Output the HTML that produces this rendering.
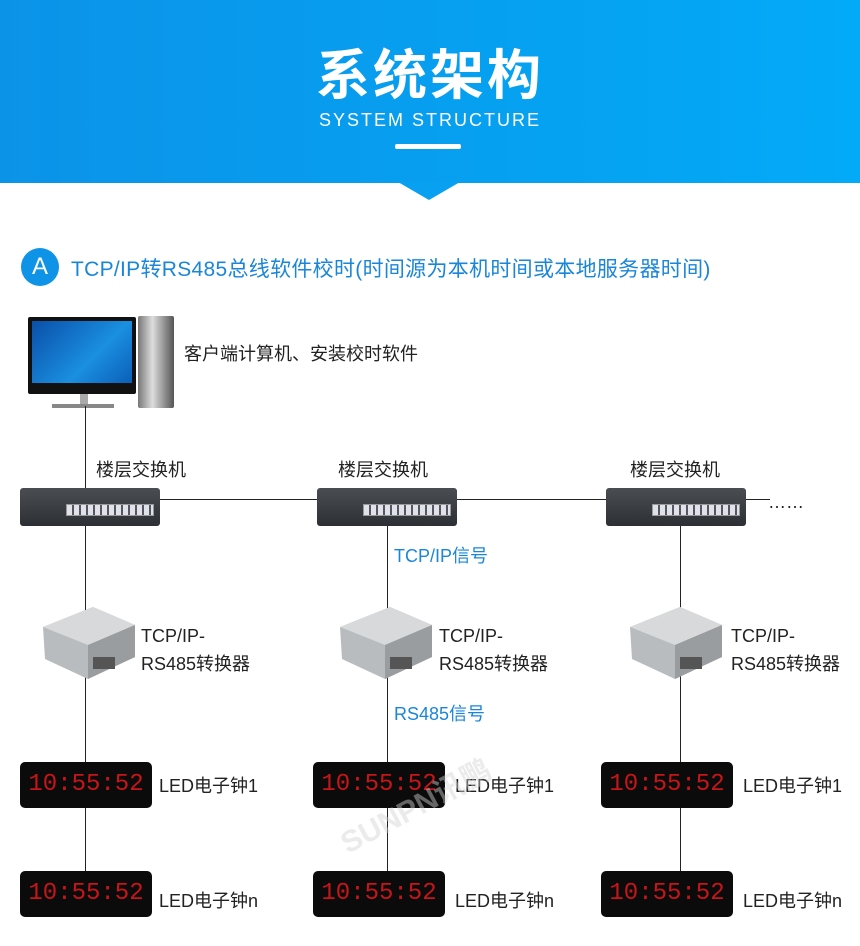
<!DOCTYPE html>
<html><head><meta charset="utf-8"><style>
*{margin:0;padding:0;box-sizing:border-box}
body{width:860px;height:946px;position:relative;background:#fff;overflow:hidden;font-family:"Liberation Sans","Noto Sans CJK SC",sans-serif}
.hdr{position:absolute;left:0;top:0;width:860px;height:183px;background:linear-gradient(90deg,#0b93e8,#03aaf7)}
.abs{position:absolute}
.t{position:absolute;font-size:18px;color:#222;white-space:nowrap}
.b{color:#1a86d8}
.v{position:absolute;width:1px;background:#222}
.sw{position:absolute;width:140px;height:38px;background:linear-gradient(#4a4d52,#2c2f33);border-radius:3px}
.sw i{position:absolute;left:46px;top:16px;width:88px;height:12px;background:repeating-linear-gradient(90deg,#dfe3e8 0 5px,#556 5px 7px);border:1px solid #999}
.cv{position:absolute;width:92px;height:72px}
.clk{position:absolute;width:132px;height:46px;background:#0b0b0b;border-radius:5px;color:#c8151a;font-family:"Liberation Mono",monospace;font-size:24px;line-height:46px;text-align:center;letter-spacing:0}
</style></head><body>
<div class="hdr"></div>
<svg class="abs" style="left:398px;top:182px" width="62" height="20"><polygon points="0,0 62,0 31,18" fill="#08a0f0"/></svg>
<div class="abs" style="left:0;top:40px;width:860px;text-align:center;color:#fff;font-size:54px;font-weight:bold;letter-spacing:3px;font-family:'Noto Sans CJK SC',sans-serif;line-height:62px">系统架构</div>
<div class="abs" style="left:0;top:110px;width:860px;text-align:center;color:#fff;font-size:18px;letter-spacing:2px">SYSTEM STRUCTURE</div>
<div class="abs" style="left:395px;top:144px;width:66px;height:5px;background:#fff;border-radius:2px"></div>
<div class="abs" style="left:21px;top:248px;width:38px;height:38px;border-radius:50%;background:#0e93e6;color:#fff;font-size:24px;text-align:center;line-height:38px">A</div>
<div class="t b" style="left:71px;top:253px;font-size:21px;letter-spacing:0.3px">TCP/IP转RS485总线软件校时(时间源为本机时间或本地服务器时间)</div>

<!-- computer -->
<div class="abs" style="left:28px;top:317px;width:108px;height:77px;background:#111;border-radius:2px"></div>
<div class="abs" style="left:32px;top:321px;width:100px;height:62px;background:linear-gradient(135deg,#0a4fa8,#1a8fe0 60%,#0b5fb8)"></div>
<div class="abs" style="left:80px;top:394px;width:8px;height:12px;background:#aaa"></div>
<div class="abs" style="left:52px;top:404px;width:62px;height:4px;background:#888"></div>
<div class="abs" style="left:138px;top:316px;width:36px;height:92px;background:linear-gradient(90deg,#777,#ddd 40%,#555);border-radius:2px"></div>
<div class="t" style="left:184px;top:340px">客户端计算机、安装校时软件</div>

<!-- lines -->
<div class="v" style="left:85px;top:406px;height:84px"></div>
<div class="abs" style="left:160px;top:499px;width:610px;height:1px;background:#222"></div>
<div class="v" style="left:85px;top:524px;height:350px"></div>
<div class="v" style="left:387px;top:524px;height:350px"></div>
<div class="v" style="left:680px;top:524px;height:350px"></div>

<div class="t" style="left:96px;top:456px">楼层交换机</div>
<div class="t" style="left:338px;top:456px">楼层交换机</div>
<div class="t" style="left:630px;top:456px">楼层交换机</div>
<div class="t" style="left:768px;top:492px">……</div>

<div class="sw" style="left:20px;top:488px"><i></i></div>
<div class="sw" style="left:317px;top:488px"><i></i></div>
<div class="sw" style="left:606px;top:488px"><i></i></div>

<div class="t b" style="left:394px;top:542px">TCP/IP信号</div>
<div class="t b" style="left:394px;top:700px">RS485信号</div>

<!-- converters -->
<svg class="cv" style="left:43px;top:607px" viewBox="0 0 92 72"><polygon points="0,20 50,0 92,18 92,50 45,72 2,52" fill="#b9bcbf"/><polygon points="0,20 50,0 92,18 45,38" fill="#d7d9db"/><polygon points="45,38 92,18 92,50 45,72" fill="#9a9da0"/><rect x="50" y="50" width="22" height="12" fill="#555"/></svg>
<svg class="cv" style="left:340px;top:607px" viewBox="0 0 92 72"><polygon points="0,20 50,0 92,18 92,50 45,72 2,52" fill="#b9bcbf"/><polygon points="0,20 50,0 92,18 45,38" fill="#d7d9db"/><polygon points="45,38 92,18 92,50 45,72" fill="#9a9da0"/><rect x="50" y="50" width="22" height="12" fill="#555"/></svg>
<svg class="cv" style="left:630px;top:607px" viewBox="0 0 92 72"><polygon points="0,20 50,0 92,18 92,50 45,72 2,52" fill="#b9bcbf"/><polygon points="0,20 50,0 92,18 45,38" fill="#d7d9db"/><polygon points="45,38 92,18 92,50 45,72" fill="#9a9da0"/><rect x="50" y="50" width="22" height="12" fill="#555"/></svg>
<div class="t" style="left:141px;top:622px;line-height:28px">TCP/IP-<br>RS485转换器</div>
<div class="t" style="left:439px;top:622px;line-height:28px">TCP/IP-<br>RS485转换器</div>
<div class="t" style="left:731px;top:622px;line-height:28px">TCP/IP-<br>RS485转换器</div>

<!-- clocks -->
<div class="clk" style="left:20px;top:762px">10:55:52</div>
<div class="clk" style="left:313px;top:762px">10:55:52</div>
<div class="clk" style="left:601px;top:762px">10:55:52</div>
<div class="clk" style="left:20px;top:871px">10:55:52</div>
<div class="clk" style="left:313px;top:871px">10:55:52</div>
<div class="clk" style="left:601px;top:871px">10:55:52</div>
<div class="t" style="left:159px;top:772px">LED电子钟1</div>
<div class="t" style="left:455px;top:772px">LED电子钟1</div>
<div class="t" style="left:743px;top:772px">LED电子钟1</div>
<div class="t" style="left:159px;top:887px">LED电子钟n</div>
<div class="t" style="left:455px;top:887px">LED电子钟n</div>
<div class="t" style="left:743px;top:887px">LED电子钟n</div>
<div class="abs" style="left:352px;top:818px;font-size:30px;font-weight:bold;color:rgba(210,210,210,0.45);transform:rotate(-28deg);transform-origin:left bottom;white-space:nowrap">SUNPN讯鹏</div>
</body></html>
